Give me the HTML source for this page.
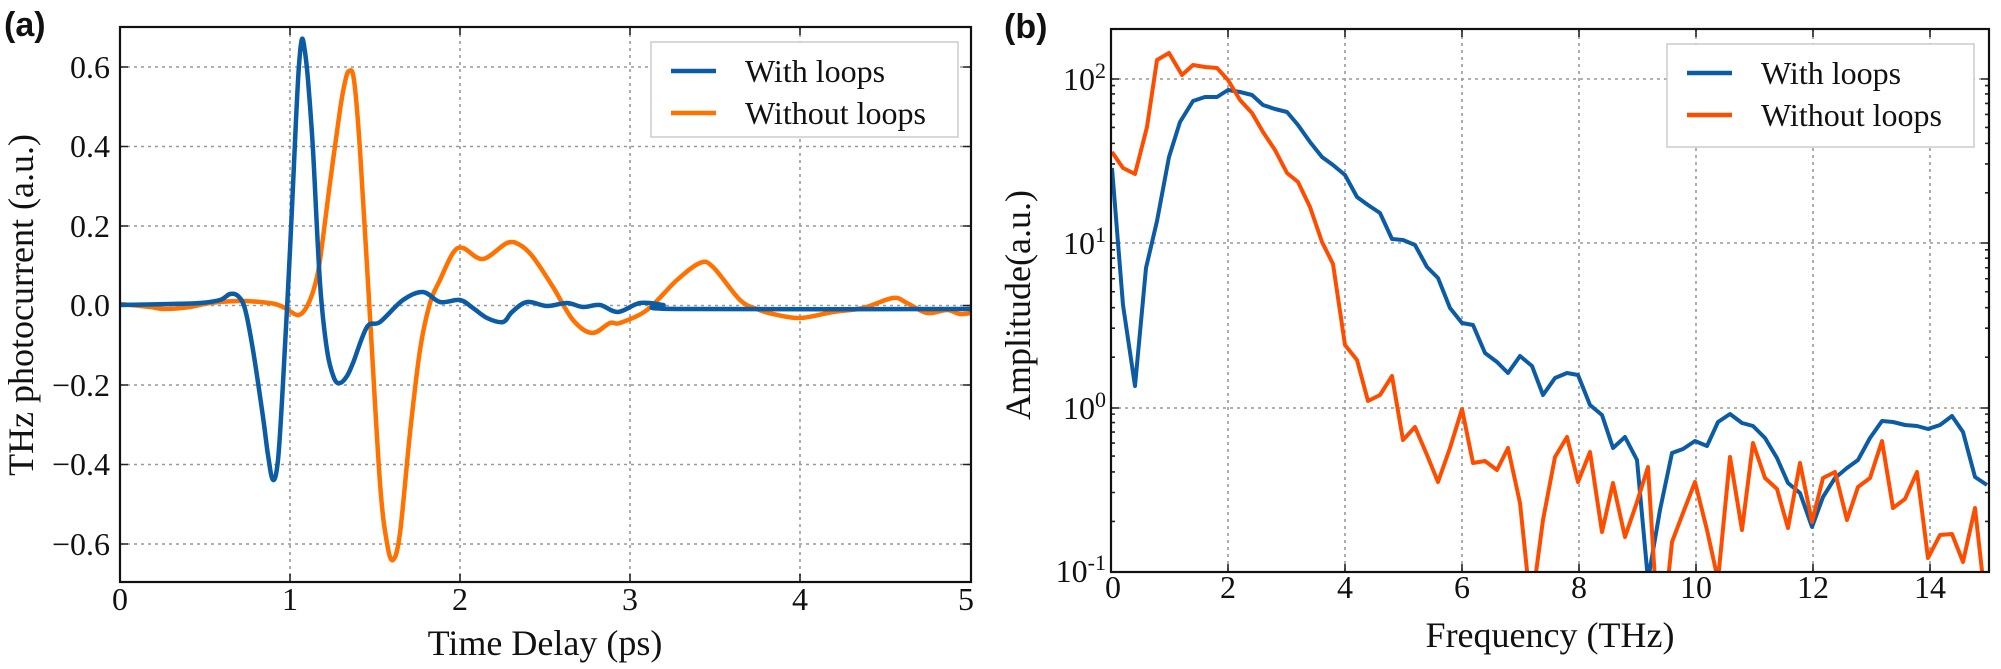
<!DOCTYPE html>
<html><head><meta charset="utf-8"><style>
html,body{margin:0;padding:0;background:#fff;}
svg{display:block;}
text{font-family:"Liberation Serif","DejaVu Serif",serif;fill:#111;}
.tk{font-size:32px;}
.lab{font-size:36px;}
.lg{font-size:32px;}
.pl{font-family:"Liberation Sans",sans-serif;font-weight:bold;font-size:34px;}
.grid{stroke:#999;stroke-width:1.6;stroke-dasharray:3,4;fill:none;}
</style></head><body>
<svg id="s" width="2001" height="669" viewBox="0 0 2001 669" xmlns="http://www.w3.org/2000/svg">
<defs>
<clipPath id="ca"><rect x="120" y="27" width="851" height="555"/></clipPath>
<clipPath id="cb"><rect x="1111" y="29" width="878" height="543"/></clipPath>
</defs>
<rect width="2001" height="669" fill="#fff"/>
<g class="grid">
<path d="M290 27V582M460 27V582M630 27V582M800 27V582"/>
<path d="M120 67H971M120 146.5H971M120 226H971M120 305.5H971M120 385H971M120 464.5H971M120 544H971"/>
</g>
<g class="grid">
<path d="M1228 29V572M1345 29V572M1462 29V572M1579 29V572M1696 29V572M1813 29V572M1930 29V572"/>
<path d="M1111 79H1989M1111 243H1989M1111 408H1989"/>
</g>
<g id="ticks" stroke="#222" stroke-width="1.6"></g>
<g id="ga" clip-path="url(#ca)" fill="none" stroke-width="4.5" stroke-linejoin="round" stroke-linecap="round">
<polyline class="sm" stroke="#ff7200" points="120,304 150,307 165,309 190,307 210,303 240,301 260,302 275,304 285,308 297,315 304,311 310,300 315,285 320,260 330,183 340,110 345,82 349,71 354,80 360,150 370,317 380,483 387,543 393,560 400,533 410,433 420,350 430,303 440,280 453,253 463,248 483,259 507,243 520,245 533,257 553,287 573,320 592,333 610,323 620,323 647,310 677,280 700,263 713,267 740,300 757,309 773,314 800,318 833,312 863,308 893,298 907,303 927,313 947,310 960,314 971,313"/>
<polyline class="sm" stroke="#0b5ca5" points="120,305 170,304 200,303 220,300 230,294 238,296 245,309 253,350 263,417 268,455 273,480 278,460 283,383 290,250 296,120 299,65 302,39 305,52 308,80 313,150 320,283 327,350 334,378 340,383 347,376 353,363 367,327 380,322 403,300 423,292 440,302 460,300 473,308 487,318 503,322 512,312 527,302 547,306 567,303 583,307 600,305 618,312 640,303 663,305 677,309 971,309"/>
</g>
<g clip-path="url(#cb)" fill="none" stroke-width="4" stroke-linejoin="round">
<polyline stroke="#0b5ca5" points="1112,168 1123,305 1135,386 1146,268 1157,221 1169,157 1180,122 1193,101 1205,97 1217,97 1228,90 1240,92 1252,95 1263,105 1275,109 1287,112 1298,125 1310,142 1322,157 1333,165 1345,175 1357,197 1368,205 1380,213 1392,239 1403,240 1415,245 1427,267 1438,278 1450,308 1462,323 1473,325 1485,353 1497,362 1508,373 1520,356 1532,366 1543,395 1555,378 1567,373 1578,375 1590,405 1602,415 1613,448 1625,437 1637,460 1648,580 1660,510 1672,453 1683,449 1695,441 1707,446 1718,422 1730,414 1742,423 1753,426 1765,438 1777,458 1788,483 1800,493 1812,527 1823,497 1835,478 1847,468 1858,460 1870,438 1882,421 1893,422 1905,425 1917,426 1928,429 1940,425 1952,416 1963,432 1975,477 1987,485"/>
<polyline stroke="#ff4d00" points="1112,152 1123,168 1135,174 1147,127 1157,60 1169,53 1182,75 1193,65 1205,67 1217,68 1228,80 1240,100 1252,113 1263,132 1275,150 1287,173 1298,182 1310,207 1322,242 1333,264 1345,345 1357,360 1368,401 1380,395 1392,376 1403,440 1415,427 1427,455 1438,482 1450,448 1462,409 1473,463 1485,461 1497,470 1508,448 1520,503 1528,580 1535,580 1543,520 1555,457 1567,437 1578,482 1590,452 1602,532 1613,483 1625,537 1637,502 1648,467 1655,580 1668,580 1672,542 1683,513 1695,482 1707,530 1718,580 1730,457 1742,530 1753,443 1765,478 1777,489 1788,528 1800,463 1812,522 1823,478 1835,472 1847,520 1858,487 1870,478 1882,441 1893,508 1905,499 1917,472 1928,558 1940,535 1952,534 1963,562 1975,508 1983,580"/>
</g>
<rect x="120" y="27" width="851" height="555" fill="none" stroke="#111" stroke-width="2.2"/>
<rect x="1111" y="29" width="878" height="543" fill="none" stroke="#111" stroke-width="2.2"/>
<g class="tk" text-anchor="end">
<text x="110" y="78">0.6</text>
<text x="110" y="157">0.4</text>
<text x="110" y="237">0.2</text>
<text x="110" y="316">0.0</text>
<text x="110" y="396">−0.2</text>
<text x="110" y="475">−0.4</text>
<text x="110" y="555">−0.6</text>
</g>
<g class="tk" text-anchor="middle">
<text x="120" y="610">0</text><text x="290" y="610">1</text><text x="460" y="610">2</text>
<text x="630" y="610">3</text><text x="800" y="610">4</text><text x="966" y="610">5</text>
</g>
<text class="lab" x="545" y="655" text-anchor="middle">Time Delay (ps)</text>
<text class="lab" transform="translate(33,305) rotate(-90)" text-anchor="middle">THz photocurrent (a.u.)</text>
<g class="tk" text-anchor="middle">
<text x="1113" y="598">0</text><text x="1228" y="598">2</text><text x="1345" y="598">4</text>
<text x="1462" y="598">6</text><text x="1579" y="598">8</text><text x="1696" y="598">10</text>
<text x="1813" y="598">12</text><text x="1930" y="598">14</text>
</g>
<g class="tk" text-anchor="end">
<text x="1106" y="90">10<tspan dy="-12" font-size="22">2</tspan></text>
<text x="1106" y="254">10<tspan dy="-12" font-size="22">1</tspan></text>
<text x="1106" y="419">10<tspan dy="-12" font-size="22">0</tspan></text>
<text x="1106" y="582">10<tspan dy="-12" font-size="22">-1</tspan></text>
</g>
<text class="lab" x="1550" y="647" text-anchor="middle">Frequency (THz)</text>
<text class="lab" transform="translate(1030,305) rotate(-90)" text-anchor="middle">Amplitude(a.u.)</text>
<rect x="651" y="42" width="307" height="95" fill="#fff" stroke="#ccc" stroke-width="1.5"/>
<line x1="671" y1="71" x2="716" y2="71" stroke="#0b5ca5" stroke-width="4.5"/>
<line x1="671" y1="113" x2="716" y2="113" stroke="#ff7200" stroke-width="4.5"/>
<text class="lg" x="745" y="82">With loops</text>
<text class="lg" x="745" y="124">Without loops</text>
<rect x="1667" y="44" width="307" height="103" fill="#fff" stroke="#ccc" stroke-width="1.5"/>
<line x1="1687" y1="73" x2="1732" y2="73" stroke="#0b5ca5" stroke-width="4.5"/>
<line x1="1687" y1="115" x2="1732" y2="115" stroke="#ff4d00" stroke-width="4.5"/>
<text class="lg" x="1761" y="84">With loops</text>
<text class="lg" x="1761" y="126">Without loops</text>
<text class="pl" x="4" y="36">(a)</text>
<text class="pl" x="1004" y="38">(b)</text>
</svg>
<script>
(function(){
var NS='http://www.w3.org/2000/svg';
var g=document.getElementById('ticks'),d='';
function L(x1,y1,x2,y2){d+='M'+x1+' '+y1+'L'+x2+' '+y2;}
[290,460,630,800].forEach(function(x){L(x,582,x,574);L(x,27,x,35);});
[67,146.5,226,305.5,385,464.5,544].forEach(function(y){L(120,y,128,y);L(971,y,963,y);});
[1228,1345,1462,1579,1696,1813,1930].forEach(function(x){L(x,572,x,564);L(x,29,x,37);});
[79,243,408].forEach(function(y){L(1111,y,1119,y);L(1989,y,1981,y);});
for(var dec=-1;dec<3;dec++){for(var k=2;k<10;k++){var y=78+(2-(dec+Math.log10(k)))*164.3;if(y<29||y>572)continue;L(1111,y,1115,y);L(1989,y,1985,y);}}
var p=document.createElementNS(NS,'path');p.setAttribute('d',d);p.setAttribute('fill','none');g.appendChild(p);
// smooth panel a curves (Catmull-Rom)
var pls=document.querySelectorAll('polyline.sm');
for(var i=0;i<pls.length;i++){
 var pl=pls[i],pts=pl.getAttribute('points').trim().split(/\s+/).map(function(s){return s.split(',').map(Number);});
 var s='M'+pts[0][0]+' '+pts[0][1];
 for(var j=0;j<pts.length-1;j++){
  var p0=pts[j-1]||pts[j],p1=pts[j],p2=pts[j+1],p3=pts[j+2]||p2;
  var c1x=p1[0]+(p2[0]-p0[0])/6,c1y=p1[1]+(p2[1]-p0[1])/6,c2x=p2[0]-(p3[0]-p1[0])/6,c2y=p2[1]-(p3[1]-p1[1])/6;
  s+='C'+c1x+' '+c1y+' '+c2x+' '+c2y+' '+p2[0]+' '+p2[1];
 }
 var np=document.createElementNS(NS,'path');np.setAttribute('d',s);np.setAttribute('stroke',pl.getAttribute('stroke'));
 pl.parentNode.replaceChild(np,pl);
}
})();
</script>
</body></html>
